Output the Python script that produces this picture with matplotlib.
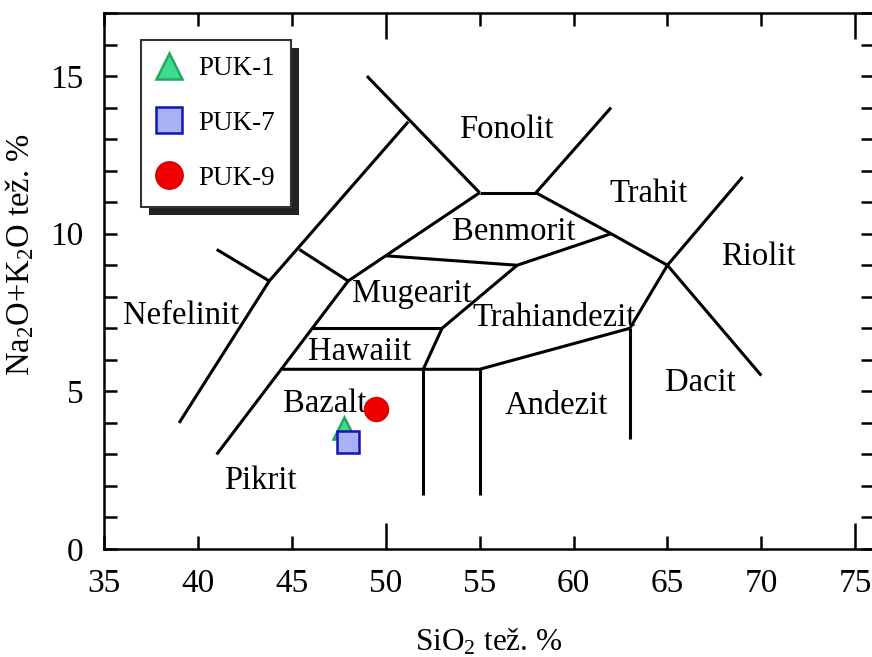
import matplotlib
matplotlib.use("Agg")
import matplotlib.pyplot as plt
from matplotlib.patches import Rectangle

plt.rcParams['font.family'] = ['Liberation Serif', 'DejaVu Serif']
plt.rcParams['mathtext.default'] = 'regular'

# granice polj TAS diagrama (SiO2, Na2O+K2O)
nefelinit_meja = [(39, 4), (43.8, 8.5), (51.2, 13.55)]
nefelinit_krak = [(41, 9.5), (43.8, 8.5)]
vez_mugearit = [(45.4, 9.5), (48, 8.5)]
fonolit_levo = [(49, 15), (55, 11.3)]
fonolit_desno = [(58, 11.3), (62, 14)]
fonolit_spodaj = [(55, 11.3), (58, 11.3)]
pikrit_meja = [(41, 3), (48, 8.5), (55, 11.3)]
trahit_meja = [(58, 11.3), (62, 10), (65, 9), (70, 5.5)]
riolit_meja = [(63, 7), (65, 9), (69, 11.8)]
benmorit_spodaj = [(50, 9.3), (57, 9), (62, 10)]
trahiandezit_levo = [(57, 9), (53, 7), (52, 5.7)]
hawaiit_zgoraj = [(46, 7), (53, 7)]
bazalt_zgoraj = [(44.5, 5.7), (52, 5.7), (55, 5.7), (63, 7)]
navpicna_52 = [(52, 5.7), (52, 1.7)]
navpicna_55 = [(55, 5.7), (55, 1.7)]
navpicna_63 = [(63, 7), (63, 3.5)]

meje = [nefelinit_meja, nefelinit_krak, vez_mugearit, fonolit_levo, fonolit_desno,
        fonolit_spodaj, pikrit_meja, trahit_meja, riolit_meja, benmorit_spodaj,
        trahiandezit_levo, hawaiit_zgoraj, bazalt_zgoraj, navpicna_52, navpicna_55,
        navpicna_63]

# imena polj in njihovi polozaji
imena = ['Nefelinit', 'Fonolit', 'Trahit', 'Benmorit', 'Riolit', 'Mugearit',
         'Trahiandezit', 'Hawaiit', 'Bazalt', 'Andezit', 'Dacit', 'Pikrit']
imena_x = [39.1, 56.4, 64.0, 56.8, 69.85, 51.4, 58.95, 48.6, 46.75, 59.1, 66.75, 43.3]
imena_y = [7.13, 13.03, 11.02, 9.81, 9.01, 7.83, 7.07, 5.99, 4.33, 4.27, 5.0, 1.91]

# vzorci
vzorci = ['PUK-1', 'PUK-7', 'PUK-9']
sio2 = [47.8, 48.0, 49.5]
alkalije = [3.85, 3.4, 4.43]
markerji = ['^', 's', 'o']
polnila = ['#3ddc8c', '#aab0f4', '#f00000']
robovi = ['#1fa860', '#1414b4', '#e00000']

fig = plt.figure(figsize=(8.72, 6.57), dpi=100)
ax = fig.add_axes([104 / 872, 108 / 657, 770 / 872, 536 / 657])

for meja in meje:
    xs = [p[0] for p in meja]
    ys = [p[1] for p in meja]
    ax.plot(xs, ys, color='black', lw=2.2, solid_capstyle='butt', zorder=2)

for ime, x, y in zip(imena, imena_x, imena_y):
    ax.text(x, y, ime, fontsize=23.5, ha='center', va='baseline', zorder=3)

for i in range(len(vzorci)):
    ax.plot(sio2[i], alkalije[i], linestyle='none', marker=markerji[i], ms=16.5,
            markerfacecolor=polnila[i], markeredgecolor=robovi[i], mew=1.8,
            label=vzorci[i], zorder=4)

ax.set_xlim(35, 76)
ax.set_ylim(0, 17)

# osi in oznake
ax.set_xticks([50, 75])
ax.set_xticklabels(['50', '75'])
ax.set_xticks([35, 40, 45, 55, 60, 65, 70], minor=True)
ax.set_xticklabels(['35', '40', '45', '55', '60', '65', '70'], minor=True)
ax.set_yticks([0, 5, 10, 15])
ax.set_yticks(range(0, 18), minor=True)

ax.tick_params(axis='x', which='major', direction='in', length=19, width=1.8,
               top=True, labelsize=24, pad=14)
ax.tick_params(axis='x', which='minor', direction='in', length=9.5, width=1.8,
               top=True, labelsize=24, pad=14)
ax.tick_params(axis='y', which='both', direction='in', length=9.5, width=1.8,
               right=True, labelsize=24, pad=15)
for s in ax.spines.values():
    s.set_linewidth(1.8)

ax.set_xlabel('SiO$_2$ tež. %', fontsize=22.5, labelpad=20)
ax.set_ylabel('Na$_2$O+K$_2$O tež. %', fontsize=23.5)
ax.yaxis.set_label_coords(-0.088, 0.55)

leg = ax.legend(loc='upper left', bbox_to_anchor=(0.048, 0.95), borderaxespad=0,
                fontsize=19.5, frameon=True, fancybox=False, framealpha=1,
                edgecolor='#333333', labelspacing=1.1, handletextpad=0.6,
                handlelength=0.9, borderpad=0.6, markerscale=1.15)
leg.get_frame().set_linewidth(1.5)
leg.set_zorder(6)

# senca legende
fig.canvas.draw()
bb = leg.get_window_extent()
sx, sy = 8, 8
senca = Rectangle(((bb.x0 + sx) / fig.bbox.width, (bb.y0 - sy) / fig.bbox.height),
                  bb.width / fig.bbox.width, bb.height / fig.bbox.height,
                  transform=fig.transFigure, facecolor='#222222', edgecolor='none',
                  zorder=5.5, clip_on=False)
ax.add_artist(senca)

fig.savefig('out.png', dpi=100)
